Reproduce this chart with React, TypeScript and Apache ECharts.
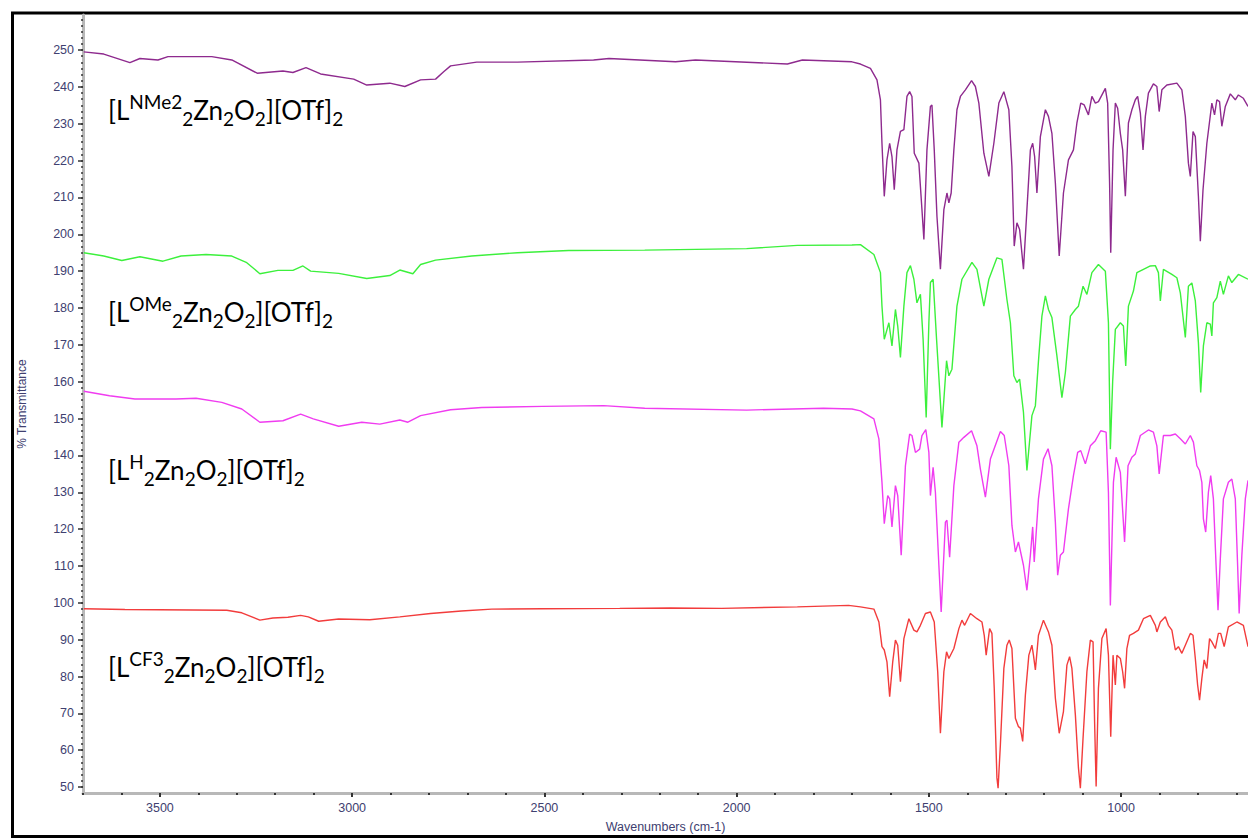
import React, { useEffect, useRef } from 'react';
import * as echarts from 'echarts';

// ---- axis ranges / tick labels ----
const xRangeMin = 670;
const xRangeMax = 3700;
const yRangeMin = 48.4;
const yRangeMax = 259.5;
const xLabelValues = [3500, 3000, 2500, 2000, 1500, 1000];
const yLabelValues = [50, 60, 70, 80, 90, 100, 110, 120, 130, 140, 150, 160, 170, 180, 190, 200, 210, 220, 230, 240, 250];

// ---- series: [wavenumber (cm-1), % transmittance] ----
const nme2Data = [
  [3698, 249.5], [3646, 248.9], [3578, 246.6], [3552, 247.7], [3505, 247.3], [3479, 248.2], [3365, 248.2], [3313, 247.3],
  [3247, 243.7], [3180, 244.3], [3154, 243.9], [3120, 245.2], [3082, 243.5], [2996, 242.1], [2962, 240.5], [2902, 241.0],
  [2863, 240.1], [2822, 241.9], [2783, 242.1], [2762, 244.1], [2744, 245.7], [2676, 246.7], [2570, 246.7], [2372, 247.3],
  [2332, 247.7], [2159, 246.8], [2107, 247.3], [1868, 246.2], [1829, 247.3], [1700, 246.8], [1678, 246.2], [1652, 245.0],
  [1635, 241.9], [1626, 236.5], [1622, 224.7], [1616, 210.3], [1609, 220.2], [1602, 224.7], [1596, 221.1], [1590, 212.1],
  [1583, 222.9], [1574, 227.9], [1565, 228.4], [1557, 237.4], [1550, 238.7], [1544, 237.4], [1538, 222.0], [1526, 219.3],
  [1518, 206.7], [1513, 198.6], [1505, 222.9], [1496, 234.7], [1492, 235.1], [1486, 222.9], [1479, 204.9], [1470, 190.5],
  [1461, 206.7], [1453, 211.2], [1448, 208.5], [1442, 211.2], [1435, 222.9], [1427, 233.8], [1418, 237.4], [1405, 239.2],
  [1389, 241.7], [1379, 240.1], [1370, 235.6], [1357, 222.0], [1344, 215.7], [1331, 224.7], [1318, 235.6], [1305, 238.7],
  [1292, 233.8], [1284, 218.4], [1278, 196.8], [1271, 203.1], [1264, 201.3], [1254, 190.5], [1245, 206.7], [1236, 222.9],
  [1230, 224.7], [1225, 221.1], [1219, 211.2], [1210, 226.5], [1197, 233.8], [1189, 232.0], [1180, 227.4], [1171, 213.9],
  [1161, 194.1], [1150, 211.2], [1137, 220.2], [1124, 222.9], [1115, 230.2], [1105, 235.6], [1096, 235.1], [1085, 232.4],
  [1076, 237.4], [1067, 235.6], [1059, 236.0], [1041, 239.6], [1035, 235.6], [1030, 213.9], [1027, 195.0], [1021, 222.9],
  [1015, 235.6], [1009, 234.2], [1002, 227.4], [996, 222.9], [989, 210.3], [981, 230.2], [972, 233.8], [963, 236.5],
  [957, 237.4], [950, 232.9], [943, 222.9], [937, 232.0], [929, 238.3], [916, 240.8], [907, 240.1], [901, 233.3],
  [894, 239.2], [881, 240.5], [855, 241.0], [842, 239.2], [833, 232.0], [825, 219.3], [820, 215.7], [813, 227.9],
  [807, 226.5], [799, 210.3], [794, 198.1], [787, 212.1], [777, 224.7], [764, 235.6], [757, 232.4], [751, 236.5],
  [744, 236.0], [738, 229.3], [729, 234.7], [716, 238.1], [703, 236.5], [695, 237.8], [682, 236.9], [670, 234.7],
];

const omeData = [
  [3698, 195.0], [3646, 194.1], [3599, 192.9], [3552, 193.9], [3492, 192.7], [3445, 194.1], [3380, 194.5], [3313, 194.1],
  [3274, 192.3], [3240, 189.3], [3193, 190.2], [3154, 190.2], [3128, 191.4], [3108, 190.0], [3035, 189.4], [2962, 188.0],
  [2902, 188.8], [2876, 190.3], [2842, 189.3], [2822, 191.8], [2783, 193.0], [2689, 194.1], [2570, 195.0], [2437, 195.6],
  [2239, 195.7], [1974, 196.1], [1842, 197.0], [1700, 197.1], [1678, 197.2], [1643, 194.5], [1626, 189.6], [1622, 180.5],
  [1616, 171.5], [1604, 176.0], [1596, 169.7], [1587, 179.6], [1581, 175.1], [1574, 166.6], [1565, 180.5], [1557, 189.6],
  [1548, 191.5], [1539, 187.8], [1531, 181.4], [1522, 183.7], [1515, 171.5], [1507, 150.3], [1500, 176.0], [1496, 186.9],
  [1489, 187.8], [1480, 171.5], [1466, 147.6], [1454, 165.7], [1448, 161.6], [1440, 163.4], [1427, 180.5], [1414, 187.8],
  [1388, 192.4], [1375, 190.5], [1357, 180.5], [1344, 187.8], [1323, 193.6], [1310, 193.2], [1297, 182.3], [1288, 176.0],
  [1279, 161.6], [1271, 159.8], [1264, 160.7], [1254, 151.7], [1245, 135.9], [1232, 150.8], [1223, 153.5], [1214, 167.0],
  [1206, 177.8], [1197, 183.3], [1189, 179.6], [1180, 177.4], [1167, 167.0], [1154, 155.7], [1145, 162.5], [1132, 177.8],
  [1119, 179.6], [1111, 180.5], [1099, 185.9], [1089, 183.7], [1076, 189.6], [1059, 191.8], [1041, 190.0], [1033, 176.0],
  [1028, 141.7], [1022, 160.0], [1015, 174.2], [1002, 176.0], [994, 175.1], [988, 164.3], [981, 180.5], [968, 184.6],
  [959, 189.6], [942, 190.5], [924, 191.4], [911, 191.5], [903, 189.6], [898, 181.9], [890, 190.5], [868, 189.1],
  [855, 188.2], [846, 184.1], [833, 172.0], [825, 185.9], [816, 186.8], [807, 181.9], [799, 170.6], [793, 157.1],
  [786, 169.7], [777, 176.0], [768, 175.6], [764, 172.4], [760, 181.4], [751, 182.8], [742, 187.3], [734, 183.7],
  [721, 188.7], [712, 186.9], [695, 189.1], [670, 187.8],
];

const hData = [
  [3698, 157.4], [3631, 156.2], [3565, 155.3], [3458, 155.3], [3406, 155.5], [3339, 154.4], [3287, 152.6], [3240, 149.0],
  [3180, 149.4], [3134, 151.2], [3101, 149.9], [3035, 147.9], [2975, 149.0], [2928, 148.5], [2876, 149.6], [2855, 149.0],
  [2822, 150.8], [2744, 152.4], [2663, 153.0], [2505, 153.3], [2346, 153.5], [2239, 152.8], [1974, 152.3], [1774, 152.8],
  [1700, 152.6], [1678, 152.1], [1643, 149.9], [1630, 144.5], [1622, 132.7], [1616, 121.5], [1607, 129.1], [1602, 128.2],
  [1596, 120.6], [1587, 131.8], [1581, 129.1], [1572, 112.9], [1561, 137.2], [1550, 145.8], [1544, 145.4], [1535, 140.8],
  [1524, 141.7], [1518, 145.4], [1508, 147.0], [1500, 140.8], [1496, 129.1], [1489, 136.8], [1483, 130.0], [1474, 110.2],
  [1468, 97.5], [1457, 121.9], [1453, 122.4], [1446, 112.4], [1435, 131.8], [1422, 143.6], [1409, 144.9], [1389, 146.7],
  [1375, 142.6], [1366, 136.3], [1353, 128.7], [1340, 139.0], [1314, 146.5], [1304, 145.4], [1292, 137.2], [1284, 121.0],
  [1275, 113.8], [1267, 116.5], [1254, 110.2], [1245, 103.4], [1236, 112.9], [1230, 120.6], [1226, 111.1], [1215, 128.2],
  [1202, 139.0], [1190, 141.8], [1180, 137.2], [1171, 121.9], [1165, 107.5], [1158, 112.9], [1150, 113.8], [1137, 125.5],
  [1124, 134.5], [1113, 140.8], [1105, 141.3], [1093, 137.7], [1080, 142.6], [1067, 144.0], [1053, 146.7], [1039, 146.3],
  [1033, 130.0], [1028, 99.3], [1020, 132.7], [1013, 139.5], [1002, 135.4], [991, 116.5], [982, 137.2], [972, 139.5],
  [963, 140.4], [950, 145.4], [929, 146.9], [916, 146.3], [907, 142.6], [901, 135.0], [890, 145.4], [872, 145.4],
  [859, 145.8], [846, 144.5], [833, 143.1], [820, 145.4], [812, 143.6], [803, 137.2], [796, 135.9], [790, 132.7],
  [786, 122.8], [780, 119.2], [773, 130.0], [767, 134.5], [760, 128.2], [753, 110.2], [748, 98.0], [742, 112.0],
  [734, 128.2], [721, 132.7], [712, 133.6], [703, 128.2], [697, 110.2], [693, 97.1], [686, 112.9], [677, 128.2],
  [670, 133.2],
];

const cf3Data = [
  [3698, 98.4], [3591, 98.2], [3326, 98.0], [3287, 97.3], [3240, 95.3], [3206, 95.9], [3167, 96.1], [3134, 96.6],
  [3114, 96.2], [3087, 95.0], [3035, 95.6], [2954, 95.4], [2876, 96.2], [2796, 97.1], [2716, 97.8], [2637, 98.3],
  [2505, 98.4], [2304, 98.5], [2172, 98.6], [2039, 98.5], [1842, 98.9], [1709, 99.3], [1678, 98.9], [1643, 98.3],
  [1630, 94.8], [1622, 88.1], [1616, 87.2], [1609, 84.0], [1602, 74.5], [1594, 84.0], [1587, 89.9], [1581, 88.5],
  [1574, 78.6], [1565, 90.3], [1552, 95.7], [1539, 92.6], [1531, 92.1], [1522, 93.9], [1509, 97.1], [1496, 97.5],
  [1486, 94.8], [1477, 81.3], [1470, 64.6], [1461, 81.3], [1454, 86.7], [1448, 84.9], [1435, 87.6], [1422, 93.0],
  [1414, 95.3], [1407, 93.9], [1392, 97.1], [1375, 95.7], [1362, 94.8], [1356, 91.2], [1351, 85.8], [1342, 93.0],
  [1336, 91.7], [1330, 76.8], [1323, 52.5], [1320, 49.7], [1314, 61.5], [1305, 82.2], [1297, 88.5], [1291, 89.9],
  [1284, 87.6], [1275, 68.7], [1267, 66.4], [1262, 66.0], [1256, 62.4], [1249, 75.0], [1240, 85.8], [1232, 88.5],
  [1228, 85.8], [1223, 81.8], [1215, 91.2], [1202, 95.3], [1189, 92.1], [1180, 88.5], [1171, 74.1], [1161, 64.6],
  [1150, 70.5], [1141, 83.1], [1134, 85.4], [1128, 82.2], [1119, 69.6], [1111, 55.2], [1106, 49.7], [1099, 63.3],
  [1089, 81.3], [1080, 89.9], [1073, 89.4], [1069, 67.8], [1065, 50.2], [1059, 76.8], [1050, 90.3], [1039, 93.0],
  [1033, 85.8], [1027, 63.7], [1021, 85.8], [1015, 77.7], [1011, 85.8], [1002, 84.9], [996, 81.3], [991, 76.8],
  [985, 87.6], [978, 91.2], [968, 91.7], [955, 92.6], [942, 95.7], [924, 96.6], [911, 93.9], [907, 92.1],
  [898, 94.8], [885, 96.2], [877, 93.9], [868, 92.6], [859, 87.2], [851, 88.1], [842, 86.3], [833, 88.5],
  [820, 91.7], [813, 91.2], [807, 84.9], [801, 77.7], [796, 73.6], [790, 79.5], [784, 84.5], [777, 82.2],
  [770, 90.3], [764, 89.4], [755, 87.6], [747, 91.7], [741, 91.7], [732, 88.1], [721, 93.5], [699, 94.8],
  [682, 93.9], [670, 88.1],
];

const seriesNames = ['LNMe2', 'LOMe', 'LH', 'LCF3'];
const seriesColors = ['#8e2a8e', '#3cf03c', '#f03cf0', '#f23c3c'];
const labelSups = ['NMe2', 'OMe', 'H', 'CF3'];
const labelBaselines = [120, 322, 480, 677];

export default function App() {
  const ref = useRef<HTMLDivElement>(null);

  useEffect(() => {
    if (!ref.current) return;
    const chart = echarts.init(ref.current, undefined, { renderer: 'svg' });

    const xMinor: number[] = [];
    for (let v = 700; v <= 3700; v += 100) xMinor.push(v);
    const yMinor: number[] = [];
    for (let i = -1; i <= 126; i++) {
      const v = 50 + (i * 10) / 6;
      if (v <= yRangeMax && v >= yRangeMin) yMinor.push(Math.round(v * 1000) / 1000);
    }

    const axisTextColor = '#404070';
    const axisFont = 'Liberation Sans, Arial, sans-serif';
    const plainNumber = (v: number) => String(v);

    const datasets = [nme2Data, omeData, hData, cf3Data];

    const labelGraphics = labelSups.map((sup, i) => ({
      type: 'text',
      x: 108,
      y: labelBaselines[i] - 28,
      silent: true,
      style: {
        text: `{m|[L}{sup|${sup}}{sub|2}{m|Zn}{sub|2}{m|O}{sub|2}{m|][OTf]}{sub|2}`,
        fill: '#000',
        textVerticalAlign: 'top',
        verticalAlign: 'top',
        textAlign: 'left',
        align: 'left',
        rich: {
          m: { fontSize: 26, lineHeight: 36, fontFamily: 'Lato', fill: '#000', color: '#000', verticalAlign: 'middle' },
          sup: { fontSize: 19, lineHeight: 19, fontFamily: 'Lato', fill: '#000', color: '#000', verticalAlign: 'top' },
          sub: { fontSize: 19, lineHeight: 19, fontFamily: 'Lato', fill: '#000', color: '#000', verticalAlign: 'bottom' },
        },
      },
    }));

    chart.setOption({
      animation: false,
      backgroundColor: '#ffffff',
      grid: { left: 83, right: 0, top: 15, bottom: 43, containLabel: false },
      xAxis: [
        {
          type: 'value',
          min: xRangeMin,
          max: xRangeMax,
          inverse: true,
          position: 'bottom',
          axisLine: { show: true, lineStyle: { color: '#b8b8b8', width: 3 } },
          axisTick: { show: true, customValues: xLabelValues, length: 4, lineStyle: { color: '#333', width: 2 } },
          axisLabel: {
            show: true,
            customValues: xLabelValues,
            formatter: plainNumber,
            color: axisTextColor,
            fontSize: 12.5,
            fontFamily: axisFont,
            margin: 8,
          },
          splitLine: { show: false },
          name: 'Wavenumbers (cm-1)',
          nameLocation: 'middle',
          nameGap: 27,
          nameTextStyle: { color: axisTextColor, fontSize: 12.5, fontFamily: axisFont },
        },
        {
          type: 'value',
          min: xRangeMin,
          max: xRangeMax,
          inverse: true,
          position: 'bottom',
          axisLine: { show: false },
          axisTick: { show: true, customValues: xMinor, length: 2, lineStyle: { color: '#333', width: 2 } },
          axisLabel: { show: false },
          splitLine: { show: false },
        },
      ],
      yAxis: [
        {
          type: 'value',
          min: yRangeMin,
          max: yRangeMax,
          position: 'left',
          axisLine: { show: true, lineStyle: { color: '#b8b8b8', width: 3 } },
          axisTick: { show: true, customValues: yLabelValues, length: 5, lineStyle: { color: '#333', width: 1.5 } },
          axisLabel: {
            show: true,
            customValues: yLabelValues,
            formatter: plainNumber,
            color: axisTextColor,
            fontSize: 12.5,
            fontFamily: axisFont,
            margin: 9,
          },
          splitLine: { show: false },
          name: '% Transmittance',
          nameLocation: 'middle',
          nameGap: 55,
          nameTextStyle: { color: axisTextColor, fontSize: 12, fontFamily: axisFont },
        },
        {
          type: 'value',
          min: yRangeMin,
          max: yRangeMax,
          position: 'left',
          axisLine: { show: false },
          axisTick: { show: true, customValues: yMinor, length: 2, lineStyle: { color: '#333', width: 1.5 } },
          axisLabel: { show: false },
          splitLine: { show: false },
        },
      ],
      series: datasets.map((d, i) => ({
        type: 'line',
        name: seriesNames[i],
        data: d,
        xAxisIndex: 0,
        yAxisIndex: 0,
        showSymbol: false,
        symbol: 'none',
        smooth: false,
        lineStyle: { color: seriesColors[i], width: 1.4 },
        itemStyle: { color: seriesColors[i] },
        z: 3 + i,
      })),
      graphic: [
        {
          type: 'rect',
          silent: true,
          shape: { x: 12.5, y: 13, width: 1300, height: 823.5 },
          style: { fill: 'none', stroke: '#000', lineWidth: 3 },
        },
        ...labelGraphics,
      ],
    });

    return () => chart.dispose();
  }, []);

  return (
    <div
      ref={ref}
      style={{ position: 'absolute', left: 0, top: 0, width: 1248, height: 838, background: '#fff' }}
    />
  );
}
